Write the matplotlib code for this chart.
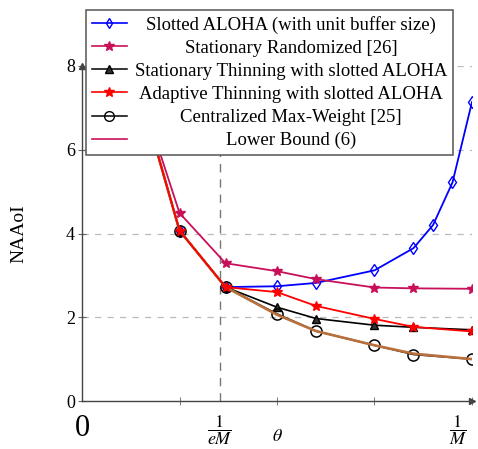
import numpy as np
import matplotlib
matplotlib.use("Agg")
import matplotlib.pyplot as plt
from matplotlib.lines import Line2D

plt.rcParams['font.family'] = ['Liberation Serif', 'DejaVu Serif']
plt.rcParams['mathtext.fontset'] = 'stix'

# theta in units of 1/M
theta = [0.125, 0.25, 0.368, 0.5, 0.6, 0.75, 0.85, 1.0]
theta_aloha = [0.125, 0.25, 0.368, 0.5, 0.6, 0.75, 0.85, 0.9, 0.95, 1.0]

slotted_aloha = [8.15, 4.07, 2.72, 2.74, 2.82, 3.12, 3.65, 4.20, 5.22, 7.14]
stat_random = [8.07, 4.49, 3.29, 3.10, 2.91, 2.71, 2.69, 2.68]
stat_thinning = [8.15, 4.07, 2.72, 2.24, 1.97, 1.81, 1.76, 1.70]
adaptive_thinning = [8.15, 4.07, 2.72, 2.60, 2.27, 1.96, 1.77, 1.66]
max_weight = [8.15, 4.07, 2.72, 2.08, 1.67, 1.33, 1.11, 1.00]
lower_bound = [8.15, 4.07, 2.72, 2.06, 1.67, 1.33, 1.13, 1.00]

labels = ["Slotted ALOHA (with unit buffer size)",
          "Stationary Randomized [26]",
          "Stationary Thinning with slotted ALOHA",
          "Adaptive Thinning with slotted ALOHA",
          "Centralized Max-Weight [25]",
          "Lower Bound (6)"]

crimson = '#c8105a'
brown = '#b8703c'
inv_e = 0.354  # position of the 1/(eM) marker on the axis

fig = plt.figure(figsize=(4.78, 4.49), dpi=100)
ax = fig.add_axes([82 / 478, 1 - 401 / 449, 390 / 478, 335 / 449])

ax.plot(theta_aloha, slotted_aloha, color='blue', lw=1.3, marker='d', ms=6,
        mfc='none', mew=1.0, zorder=2)
ax.plot(theta, stat_random, color=crimson, lw=1.3, marker='*', ms=7, zorder=2)
ax.plot(theta, stat_thinning, color='black', lw=1.2, marker='^', ms=6,
        mfc='#333333', zorder=3)
ax.plot(theta, max_weight, color='black', lw=1.2, marker='o', ms=8,
        mfc='none', mew=1.1, zorder=3)
ax.plot(theta, lower_bound, color=brown, lw=1.9, zorder=4)
ax.plot(theta, adaptive_thinning, color='red', lw=1.3, marker='*', ms=7, zorder=5)

ax.set_xlim(0, 1)
ax.set_ylim(0, 8)

# grid lines
for yv in [2, 4, 6, 8]:
    ax.axhline(yv, color='#bbbbbb', lw=0.9, dashes=(5, 5), zorder=1)
ax.axvline(inv_e, color='#777777', lw=1.0, dashes=(6, 5), zorder=1)

# axis styling (axis lines = left)
for s in ['top', 'right']:
    ax.spines[s].set_visible(False)
for s in ['left', 'bottom']:
    ax.spines[s].set_color('#444444')
    ax.spines[s].set_linewidth(1.0)
ax.plot(1, 0, marker='>', color='#444444', ms=4, transform=ax.get_yaxis_transform(),
        clip_on=False, zorder=6)
ax.plot(0, 1, marker='^', color='#444444', ms=4, transform=ax.get_xaxis_transform(),
        clip_on=False, zorder=6)

ax.set_yticks([0, 2, 4, 6, 8])
ax.tick_params(axis='y', direction='inout', length=6, color='#666666',
               labelsize=13, pad=2)
ax.set_xticks([0, inv_e, 0.963])
ax.set_xticklabels(['0', r'$\dfrac{1}{eM}$', r'$\dfrac{1}{M}$'])
ax.set_xticks([0.25, 0.5, 0.75, 1.0], minor=True)
ax.tick_params(axis='x', which='major', length=0, labelsize=13, pad=9)
ax.tick_params(axis='x', which='minor', direction='inout', length=6, color='#666666')
ax.get_xticklabels()[0].set_fontsize(22)

ax.set_xlabel(r'$\theta$', fontsize=13)
ax.xaxis.set_label_coords(0.5, -0.08)
ax.set_ylabel('NAAoI', fontsize=14)
ax.yaxis.set_label_coords(-0.14, 0.5)

handles = [
    Line2D([], [], color='blue', lw=1.2, marker='d', ms=5, mfc='none'),
    Line2D([], [], color=crimson, lw=1.2, marker='*', ms=7),
    Line2D([], [], color='black', lw=1.1, marker='^', ms=6, mfc='#333333'),
    Line2D([], [], color='red', lw=1.2, marker='*', ms=7),
    Line2D([], [], color='black', lw=1.1, marker='o', ms=7, mfc='none'),
    Line2D([], [], color=crimson, lw=1.2),
]
leg = fig.legend(handles, labels, loc='upper left', bbox_to_anchor=(86 / 478, 1 - 10 / 449),
                 bbox_transform=fig.transFigure, fontsize=13.5, numpoints=1,
                 handlelength=1.9, handletextpad=0.4, labelspacing=0.32,
                 borderpad=0.3, borderaxespad=0, fancybox=False, framealpha=1,
                 edgecolor='#555555')
leg.get_frame().set_linewidth(1.1)

# center legend entries like the original
fig.canvas.draw()
renderer = fig.canvas.get_renderer()
widths = [t.get_window_extent(renderer).width for t in leg.get_texts()]
wmax = max(widths)
for t, w in zip(leg.get_texts(), widths):
    t.set_x((wmax - w) / 2)

fig.savefig('out.png', dpi=100)
